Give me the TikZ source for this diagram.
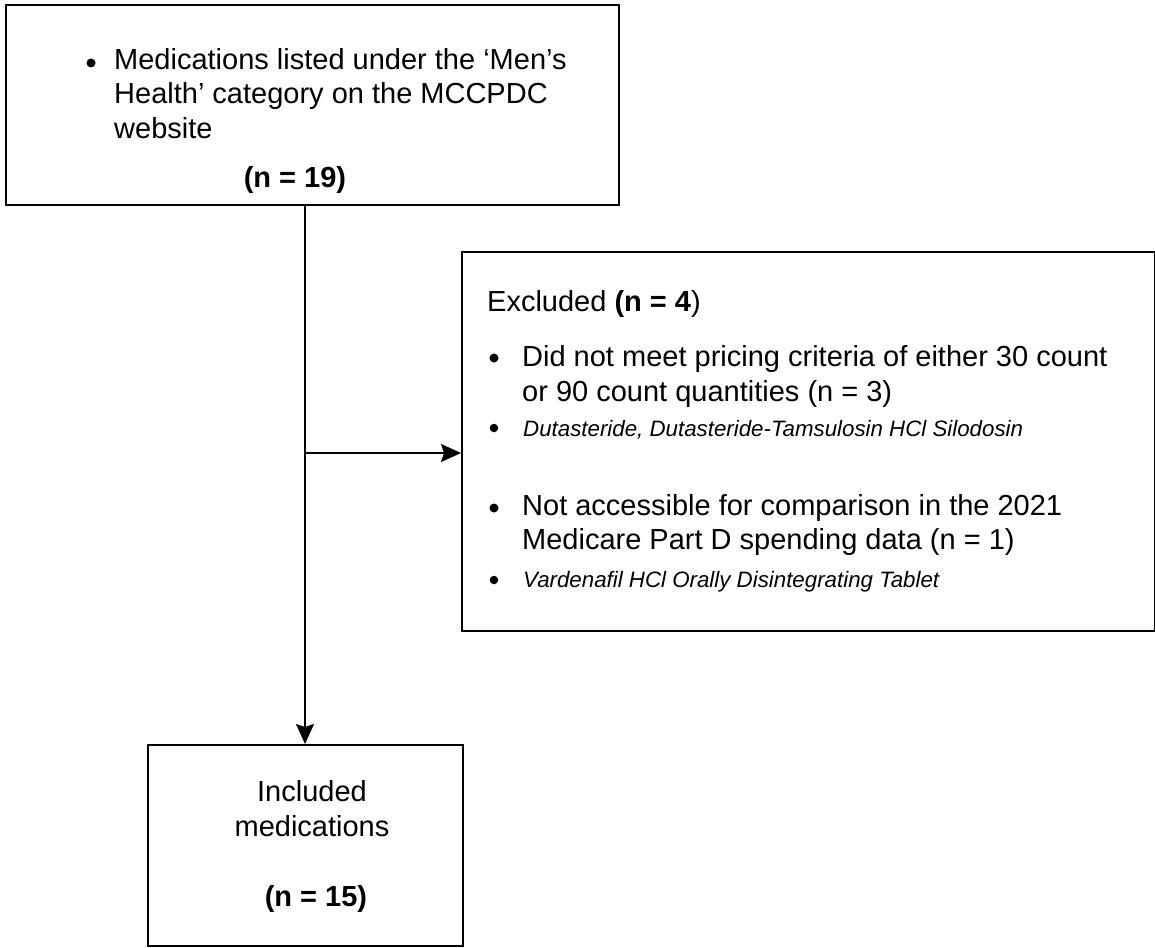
\documentclass[tikz,border=0pt]{standalone}
\usepackage{fontspec}
\setmainfont{Liberation Sans}
\usetikzlibrary{arrows.meta}
\begin{document}
\begin{tikzpicture}[x=1pt,y=-1pt,
  box/.style={draw, line width=2.2pt, rectangle, inner sep=0pt},
  conn/.style={line width=1.8pt, -{Stealth[length=20pt,width=18pt,inset=3pt]}},
  bigtxt/.style={font=\fontsize{29}{34}\selectfont, inner sep=0pt, anchor=base west},
  ctxt/.style={font=\fontsize{29}{34}\selectfont, inner sep=0pt, anchor=base},
  smalltxt/.style={font=\fontsize{22.3}{26}\selectfont\itshape, inner sep=0pt, anchor=base west},
  bul/.style={circle, fill, inner sep=0pt, minimum size=9pt},
  sbul/.style={circle, fill, inner sep=0pt, minimum size=8.5pt}]
\useasboundingbox (0,0) rectangle (1155,947);
% boxes
\node[box, minimum width=613pt, minimum height=200pt, anchor=north west] (top) at (5,4) {};
\node[box, minimum width=693pt, minimum height=379pt, anchor=north west] (exc) at (461,251) {};
\node[box, minimum width=315pt, minimum height=201pt, anchor=north west] (inc) at (147,744) {};
% top box text
\node[bul] (b1) at (91,63) {};
\node[bigtxt] (t1) at (114,70) {Medications listed under the ‘Men’s};
\node[bigtxt] (t2) at (114,104) {Health’ category on the MCCPDC};
\node[bigtxt] (t3) at (114,138) {website};
\node[ctxt, font=\fontsize{29}{34}\selectfont\bfseries] (t4) at (295,187) {(n = 19)};
% excluded box text
\node[bigtxt] (e1) at (487,311) {Excluded \textbf{(n = 4})};
\node[bul] (b2) at (494,358) {};
\node[bigtxt] (e2) at (522,366) {Did not meet pricing criteria of either 30 count};
\node[bigtxt] (e3) at (522,401) {or 90 count quantities (n = 3)};
\node[sbul] (b3) at (494,428) {};
\node[smalltxt] (e4) at (523,436) {Dutasteride, Dutasteride-Tamsulosin HCl Silodosin};
\node[bul] (b4) at (494,508) {};
\node[bigtxt] (e5) at (522,515) {Not accessible for comparison in the 2021};
\node[bigtxt] (e6) at (522,549) {Medicare Part D spending data (n = 1)};
\node[sbul] (b5) at (494,580) {};
\node[smalltxt] (e7) at (523,587) {Vardenafil HCl Orally Disintegrating Tablet};
% included box text
\node[ctxt] (i1) at (312,801) {Included};
\node[ctxt] (i2) at (312,836) {medications};
\node[ctxt, font=\fontsize{29}{34}\selectfont\bfseries] (i3) at (316,906) {(n = 15)};
% connectors
\coordinate (ts) at (305,205);
\coordinate (br) at (305,453);
\draw[conn] (ts) -- (ts |- inc.north);
\draw[conn] (br) -- (br -| exc.west);
\end{tikzpicture}
\end{document}
